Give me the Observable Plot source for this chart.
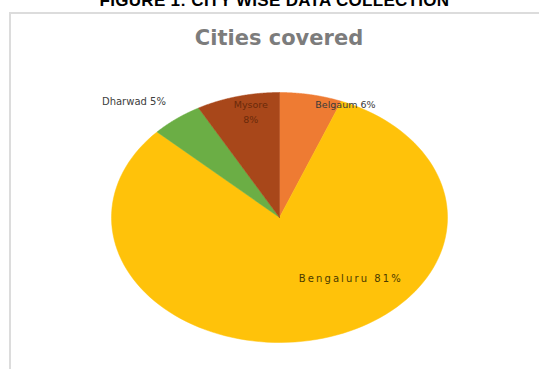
<!DOCTYPE html>
<html>
<head>
<meta charset="utf-8">
<script src="https://cdn.jsdelivr.net/npm/d3@7"></script>
<script src="https://cdn.jsdelivr.net/npm/@observablehq/plot@0.6"></script>
<style>
  html, body { margin: 0; padding: 0; background: #fff; }
  #wrap { position: relative; width: 539px; height: 369px; overflow: hidden; background: #fff; }
  #frame { position: absolute; left: 9px; top: 12px; width: 560px; height: 400px; border: 2px solid #dcdcdc; box-sizing: border-box; }
  #fig { position: absolute; left: 0; width: 549px; top: -9px; text-align: center; font: bold 17px "Liberation Sans", Arial, sans-serif; color: #000; white-space: nowrap; letter-spacing: 0.3px; }
  #ttl { position: absolute; left: 0; width: 558px; top: 26px; text-align: center; font: bold 21px "DejaVu Sans", sans-serif; color: #7c7c7c; }
  #chart { position: absolute; left: 0; top: 0; }
  .wide text { letter-spacing: 2.1px; }
</style>
</head>
<body>
<div id="wrap">
  <div id="frame"></div>
  <div id="chart"></div>
  <div id="fig">FIGURE 1: CITY WISE DATA COLLECTION</div>
  <div id="ttl">Cities covered</div>
</div>
<script>
const cities = ["Belgaum", "Bengaluru", "Dharwad", "Mysore"];
const shares = [6, 81, 5, 8];
const colors = ["#EE7B33", "#FFC20A", "#6BAE45", "#A8471A"];
const labelColors = ["#3a3a3a", "#4a3a00", "#404040", "#6a2a0a"];

const arcs = d3.pie().sort(null).value(d => d)(shares);

// polygon points for each slice (unit circle, angle clockwise from 12 o'clock)
const pts = [];
arcs.forEach((a, i) => {
  pts.push({city: cities[i], x: 0, y: 0});
  const n = 120;
  for (let k = 0; k <= n; k++) {
    const t = a.startAngle + (a.endAngle - a.startAngle) * k / n;
    pts.push({city: cities[i], x: Math.sin(t), y: Math.cos(t)});
  }
  pts.push({city: cities[i], x: 0, y: 0});
});

// label placement: radius factor and pixel nudges per slice
const place = {
  Belgaum:   {r: 0.95, dx: 36, dy: 2, size: 9.5, cls: null},
  Bengaluru: {r: 0.5,  dx: 53, dy: -2, size: 10, cls: "wide"},
  Dharwad:   {r: 1.2,  dx: -22, dy: 1, size: 10, cls: null},
  Mysore:    {r: 0.83, dx: 6, dy: -6, size: 9.5, cls: null}
};
const labels = arcs.map((a, i) => {
  const m = (a.startAngle + a.endAngle) / 2;
  const r = place[cities[i]].r;
  return {
    city: cities[i],
    x: r * Math.sin(m), y: r * Math.cos(m),
    text: cities[i] === "Mysore" ? `${cities[i]}\n${shares[i]}%` : `${cities[i]} ${shares[i]}%`,
    color: labelColors[i]
  };
});

const cx = 279, cy = 217, rx = 168, ry = 125;

const chart = Plot.plot({
  width: 539,
  height: 369,
  margin: 0,
  x: {domain: [-1, 1], range: [cx - rx, cx + rx], axis: null},
  y: {domain: [-1, 1], range: [cy + ry, cy - ry], axis: null},
  color: {domain: cities, range: colors},
  style: {background: "transparent"},
  marks: [
    Plot.line(pts, {x: "x", y: "y", z: "city", fill: "city", stroke: "city", strokeWidth: 0.5, curve: "linear"}),
    ...labels.map(l => {
      const p = place[l.city];
      return Plot.text([l], {x: "x", y: "y", text: "text", dx: p.dx, dy: p.dy, fill: l.color,
        fontSize: p.size, fontFamily: "DejaVu Sans", lineHeight: 1.6, className: p.cls || undefined});
    })
  ]
});
document.getElementById("chart").appendChild(chart);
</script>
</body>
</html>
